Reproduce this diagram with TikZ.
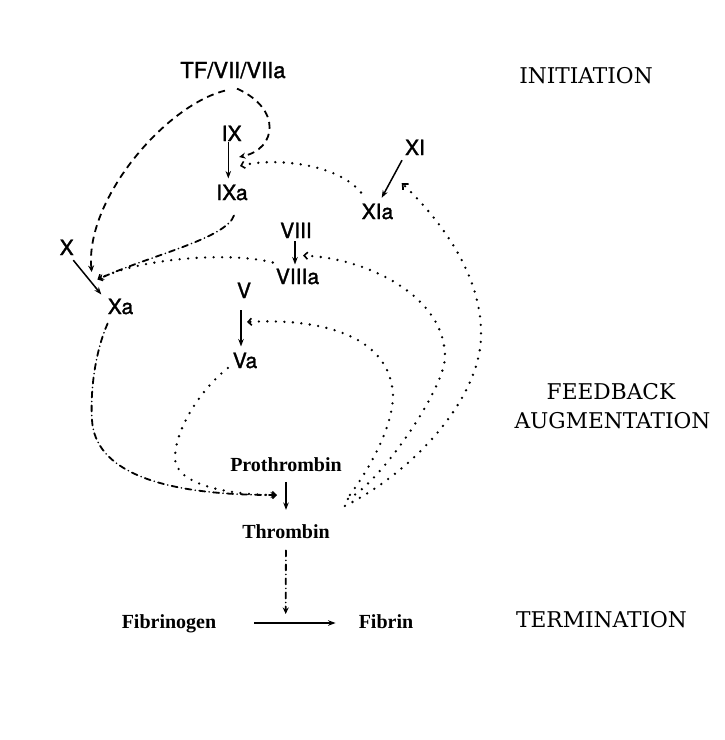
\documentclass[tikz,border=0pt]{standalone}
\usepackage{fontspec}
\setmainfont{DejaVu Serif}
\newfontfamily\labsans[FakeBold=1.5]{TeX Gyre Heros}
\newfontfamily\labbold{Liberation Serif}
\usetikzlibrary{arrows.meta,calc}

\begin{document}
\begin{tikzpicture}[x=1pt,y=-1pt,
  factor/.style={font=\labsans\fontsize{21}{21}\selectfont, inner sep=1pt, anchor=base},
  species/.style={font=\labbold\bfseries\fontsize{20}{20}\selectfont, inner sep=1pt, anchor=base},
  phase/.style={font=\fontsize{21.7}{28.5}\selectfont, inner sep=0pt, anchor=base},
  conv/.style={line width=1.5pt, -{Stealth[length=7.5pt,width=5.5pt]}},
  dashlink/.style={line width=1.8pt, dash pattern=on 7pt off 5pt, -{Stealth[length=6.5pt,width=6pt]}},
  dotlink/.style={line width=2.6pt, line cap=round, dash pattern=on 0pt off 8.5pt, -{Straight Barb[length=3.5pt,width=7pt,line width=1.6pt]}},
  dashdotlink/.style={line width=1.8pt, line cap=round, dash pattern=on 6pt off 4pt on 0pt off 4pt, -{Stealth[length=6.5pt,width=6pt]}},
]
\fill[white] (0,0) rectangle (725,740);
\useasboundingbox (0,0) rectangle (725,740);

% clotting factors
\node[factor, font=\labsans\fontsize{22}{22}\selectfont] (TF) at (233,78) {TF/VII/VIIa};
\node[factor] (IX)    at (231.7,141) {IX};
\node[factor] (IXa)   at (232,200)   {IXa};
\node[factor] (XI)    at (415,155)   {XI};
\node[factor] (XIa)   at (377.5,219) {XIa};
\node[factor] (VIII)  at (296,238)   {VIII};
\node[factor] (VIIIa) at (297.5,284) {VIIIa};
\node[factor] (X)     at (66.7,255)  {X};
\node[factor] (Xa)    at (120.5,314) {Xa};
\node[factor] (V)     at (244,298)   {V};
\node[factor] (Va)    at (245,368)   {Va};

% thrombin and fibrin
\node[species] (Pro)  at (286,471) {Prothrombin};
\node[species] (Thr)  at (286,538) {Thrombin};
\node[species] (Fbg)  at (169,628) {Fibrinogen};
\node[species] (Fbn)  at (386,628) {Fibrin};

% phase headings
\node[phase] (init) at (586,83)     {INITIATION};
\node[phase] (feed) at (611,399.5)  {FEEDBACK};
\node[phase] (augm) at (612.5,428)  {AUGMENTATION};
\node[phase] (term) at (601.5,627)  {TERMINATION};

% activation steps
\draw[conv, shorten >=5pt] ([xshift=-3.4pt]IX.south) -- ([xshift=-3.7pt]IXa.north);
\draw[conv] ([xshift=-13pt,yshift=-4pt]XI.south) -- ([xshift=4.2pt,yshift=4.7pt]XIa.north);
\draw[conv] ([xshift=6.6pt,yshift=-4pt]X.south) -- ([xshift=-5.3pt,yshift=3pt]Xa.north west);
\draw[conv, shorten >=3pt] ([xshift=-1pt,yshift=-2pt]VIII.south) -- ([xshift=-2.5pt]VIIIa.north);
\draw[conv, shorten <=11pt, shorten >=5pt] ([xshift=-3pt]V.south) -- ([xshift=-4pt]Va.north);
\draw[conv, shorten <=9.5pt, shorten >=13pt] (Pro.south) -- (Thr.north);
\draw[conv, shorten <=37pt, shorten >=22pt] ([yshift=5pt]Fbg.base east) -- ([yshift=5pt]Fbn.base west);

% targets on the activation arrows
\coordinate (onIXa) at (239,157);
\coordinate (onIXb) at (240,166);
\coordinate (onXa)  at (97.5,279.5);
\coordinate (onXb)  at (91.7,272);
\coordinate (onPro) at (277,495);
\coordinate (onVIII) at (303,255.5);
\coordinate (onV)   at (247,322);
\coordinate (onXI)  at (401.7,183);
\coordinate (onFib) at (285.7,614);

% initiation
\draw[dashlink] ([xshift=4pt,yshift=-9pt]TF.south)
  .. controls +(45,20) and +(38,-8) .. (onIXa);
\draw[dashlink] ([xshift=-8pt,yshift=-11pt]TF.south)
  .. controls +(-60,15) and +(-6.7,-72) .. (onXb);
\draw[dashdotlink] ([xshift=2pt,yshift=-14pt]IXa.south)
  .. controls +(-8,23) and +(52.5,-24) .. (onXa);
\draw[dotlink] ([xshift=-2pt,yshift=5pt]VIIIa.north west)
  .. controls +(-42,-11) and +(42.5,-21.5) .. (onXa);
\draw[dotlink] ([xshift=0.5pt,yshift=10pt]XIa.north west)
  .. controls +(-26,-31) and +(30,-8) .. (onIXb);

% prothrombinase
\coordinate (xaturn) at (92,420);
\coordinate (vaturn) at (175,458);
\draw[dashdotlink] ([xshift=1pt,yshift=-8pt]Xa.south west)
  .. controls +(-12,27) and +(-2,-30) .. (xaturn)
  .. controls +(3,50) and +(-120,0) .. (onPro);
\draw[dotlink] ([xshift=-3.7pt]Va.base west)
  .. controls +(-28,22) and +(0,-28) .. (vaturn)
  .. controls +(0,27) and +(-47,0) .. (onPro);

% thrombin feedback
\coordinate (toXI)   at (481,335);
\coordinate (toVIII) at (445,358);
\coordinate (toV)    at (393,395);
\draw[dotlink, -{Straight Barb[length=4.5pt,width=8pt,line width=1.7pt]}] ([xshift=14pt,yshift=17pt]Thr.north east)
  .. controls +(70,-35) and +(0,62) .. (toXI)
  .. controls +(1,-66) and +(30.3,29) .. (onXI);
\draw[dotlink] ([xshift=17pt,yshift=24pt]Thr.north east)
  .. controls +(30,-14) and +(-2,34) .. (toVIII)
  .. controls +(1,-60) and +(67,3) .. (onVIII);
\draw[dotlink] ([xshift=19pt,yshift=28pt]Thr.north east)
  .. controls +(15,-20) and +(0,35) .. (toV)
  .. controls +(-3,-60) and +(73,-4) .. (onV);

% thrombin acts on fibrinogen
\draw[dashdotlink, shorten <=11pt] (Thr.south) -- (onFib);
\end{tikzpicture}
\end{document}
